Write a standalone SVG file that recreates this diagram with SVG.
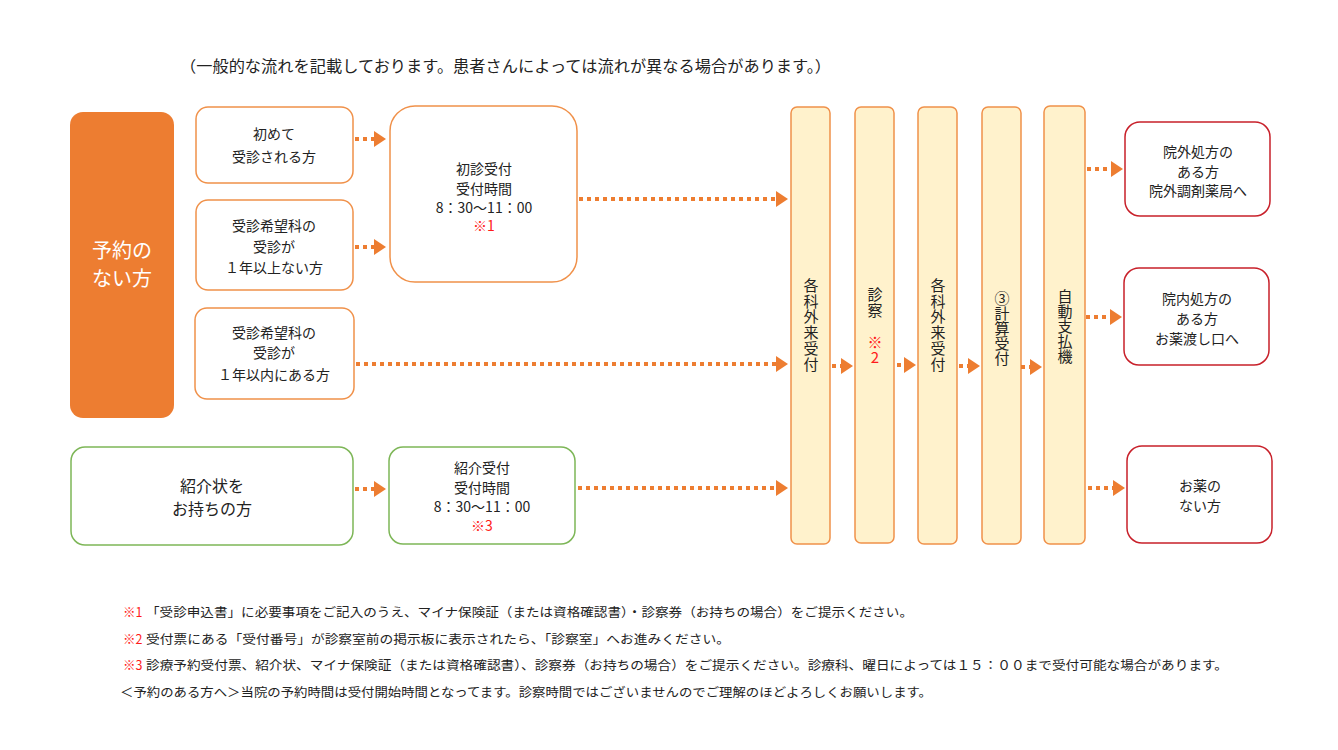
<svg xmlns="http://www.w3.org/2000/svg" width="1338" height="750" viewBox="0 0 1338 750">
<defs>
<marker id="ah" markerWidth="4" markerHeight="4" refX="1" refY="2" orient="auto" markerUnits="strokeWidth">
<path d="M0,0 L3,2 L0,4 Z" fill="#ED7D31"/>
</marker>
<style>
text{font-family:"Noto Sans CJK JP","Noto Sans CJK SC",sans-serif;fill:#222;}
.t{font-size:14px;text-anchor:middle;}
.ob{fill:#fff;stroke:#F0914A;stroke-width:1.5;}
.gb{fill:#fff;stroke:#7DB657;stroke-width:1.5;}
.rb{fill:#fff;stroke:#C8202A;stroke-width:1.5;}
.col{fill:#FFF2CC;stroke:#F0914A;stroke-width:1.5;}
.red{fill:#FF1A1A;}
.v{font-size:15px;text-anchor:middle;writing-mode:vertical-rl;text-orientation:upright;}
.c{fill:none;stroke:#ED7D31;stroke-width:4;stroke-dasharray:4 4;marker-end:url(#ah);}
.fn{font-size:12.5px;}
</style>
</defs>

<text x="180" y="72" font-size="15.5" textLength="651" lengthAdjust="spacingAndGlyphs">（一般的な流れを記載しております。患者さんによっては流れが異なる場合があります。）</text>

<g id="yoyaku-nashi">
<rect x="70" y="112" width="104" height="306" rx="13" fill="#ED7D31"/>
<text x="122" y="258" font-size="20" text-anchor="middle" style="fill:#fff">予約の</text>
<text x="122" y="286" font-size="20" text-anchor="middle" style="fill:#fff">ない方</text>
</g>

<g id="hajimete">
<rect class="ob" x="196" y="107" width="157" height="76" rx="12"/>
<text class="t" x="274" y="139">初めて</text>
<text class="t" x="274" y="162">受診される方</text>
</g>

<g id="ichinen-ijou">
<rect class="ob" x="196" y="200" width="157" height="90" rx="12"/>
<text class="t" x="274" y="231">受診希望科の</text>
<text class="t" x="274" y="252">受診が</text>
<text class="t" x="274" y="273">１年以上ない方</text>
</g>

<g id="shoshin-uketsuke">
<rect class="ob" x="390" y="106" width="187" height="176" rx="25"/>
<text class="t" x="484" y="174">初診受付</text>
<text class="t" x="484" y="194">受付時間</text>
<text class="t" x="484" y="213">8：30～11：00</text>
<text class="t red" x="484" y="231" font-size="13">※1</text>
</g>

<g id="ichinen-inai">
<rect class="ob" x="195" y="308" width="159" height="91" rx="12"/>
<text class="t" x="274" y="338">受診希望科の</text>
<text class="t" x="274" y="358">受診が</text>
<text class="t" x="274" y="380">１年以内にある方</text>
</g>

<g id="shoukaijou">
<rect class="gb" x="71" y="447" width="282" height="98" rx="14"/>
<text x="212" y="492" font-size="16" text-anchor="middle">紹介状を</text>
<text x="212" y="515" font-size="16" text-anchor="middle">お持ちの方</text>
</g>

<g id="shoukai-uketsuke">
<rect class="gb" x="389" y="447" width="186" height="97" rx="14"/>
<text class="t" x="482" y="473">紹介受付</text>
<text class="t" x="482" y="493">受付時間</text>
<text class="t" x="482" y="512" font-size="13.5">8：30～11：00</text>
<text class="t red" x="482" y="531" font-size="12">※3</text>
</g>

<g id="kakuka-gairai-1">
<rect class="col" x="791" y="107" width="39" height="437" rx="6"/>
<text class="v" x="811" y="325" letter-spacing="0.8">各科外来受付</text>
</g>

<g id="shinsatsu">
<rect class="col" x="855" y="107" width="39" height="436" rx="6"/>
<text class="v" x="875" y="303" font-size="14" letter-spacing="1">診察</text>
<text class="v red" x="875" y="350" font-size="15">※2</text>
</g>

<g id="kakuka-gairai-2">
<rect class="col" x="918" y="107" width="39" height="437" rx="6"/>
<text class="v" x="938" y="325" letter-spacing="0.8">各科外来受付</text>
</g>

<g id="keisan-uketsuke">
<rect class="col" x="982" y="107" width="39" height="437" rx="6"/>
<text class="v" x="1002" y="328">③計算受付</text>
</g>

<g id="jidou-shiharaiki">
<rect class="col" x="1044" y="106" width="41" height="438" rx="6"/>
<text class="v" x="1065" y="326">自動支払機</text>
</g>

<g id="ingai">
<rect class="rb" x="1125" y="122" width="145" height="94" rx="15"/>
<text class="t" x="1198" y="157">院外処方の</text>
<text class="t" x="1198" y="177">ある方</text>
<text class="t" x="1198" y="196">院外調剤薬局へ</text>
</g>

<g id="innai">
<rect class="rb" x="1124" y="268" width="145" height="97" rx="15"/>
<text class="t" x="1197" y="304">院内処方の</text>
<text class="t" x="1197" y="324">ある方</text>
<text class="t" x="1197" y="344">お薬渡し口へ</text>
</g>

<g id="okusuri-nashi">
<rect class="rb" x="1127" y="446" width="145" height="97" rx="15"/>
<text class="t" x="1200" y="491">お薬の</text>
<text class="t" x="1200" y="511">ない方</text>
</g>

<g id="connectors">
<line class="c" x1="355" y1="139" x2="378" y2="139"/>
<line class="c" x1="355" y1="247" x2="378" y2="247"/>
<line class="c" x1="579" y1="199" x2="780" y2="199"/>
<line class="c" x1="356" y1="364" x2="780" y2="364"/>
<line class="c" x1="355" y1="489" x2="378" y2="489"/>
<line class="c" x1="578" y1="488" x2="780" y2="488"/>
<line class="c" x1="832" y1="366" x2="845" y2="366"/>
<line class="c" x1="897" y1="365" x2="908" y2="365"/>
<line class="c" x1="959" y1="366" x2="972" y2="366"/>
<line class="c" x1="1021" y1="367" x2="1034" y2="367"/>
<line class="c" x1="1087" y1="169" x2="1115" y2="169"/>
<line class="c" x1="1086" y1="317" x2="1114" y2="317"/>
<line class="c" x1="1088" y1="488" x2="1117" y2="488"/>
</g>

<g id="notes">
<text class="fn red" x="123" y="617">※1</text>
<text class="fn" x="146" y="617" textLength="767" lengthAdjust="spacingAndGlyphs">「受診申込書」に必要事項をご記入のうえ、マイナ保険証（または資格確認書）・診察券（お持ちの場合）をご提示ください。</text>
<text class="fn red" x="123" y="644">※2</text>
<text class="fn" x="146" y="644" textLength="584" lengthAdjust="spacingAndGlyphs">受付票にある「受付番号」が診察室前の掲示板に表示されたら、「診察室」へお進みください。</text>
<text class="fn red" x="123" y="670">※3</text>
<text class="fn" x="146" y="670" textLength="1082" lengthAdjust="spacingAndGlyphs">診療予約受付票、紹介状、マイナ保険証（または資格確認書）、診察券（お持ちの場合）をご提示ください。診療科、曜日によっては１５：００まで受付可能な場合があります。</text>
<text class="fn" x="120" y="697" textLength="812" lengthAdjust="spacingAndGlyphs">＜予約のある方へ＞当院の予約時間は受付開始時間となってます。診察時間ではございませんのでご理解のほどよろしくお願いします。</text>
</g>
</svg>
